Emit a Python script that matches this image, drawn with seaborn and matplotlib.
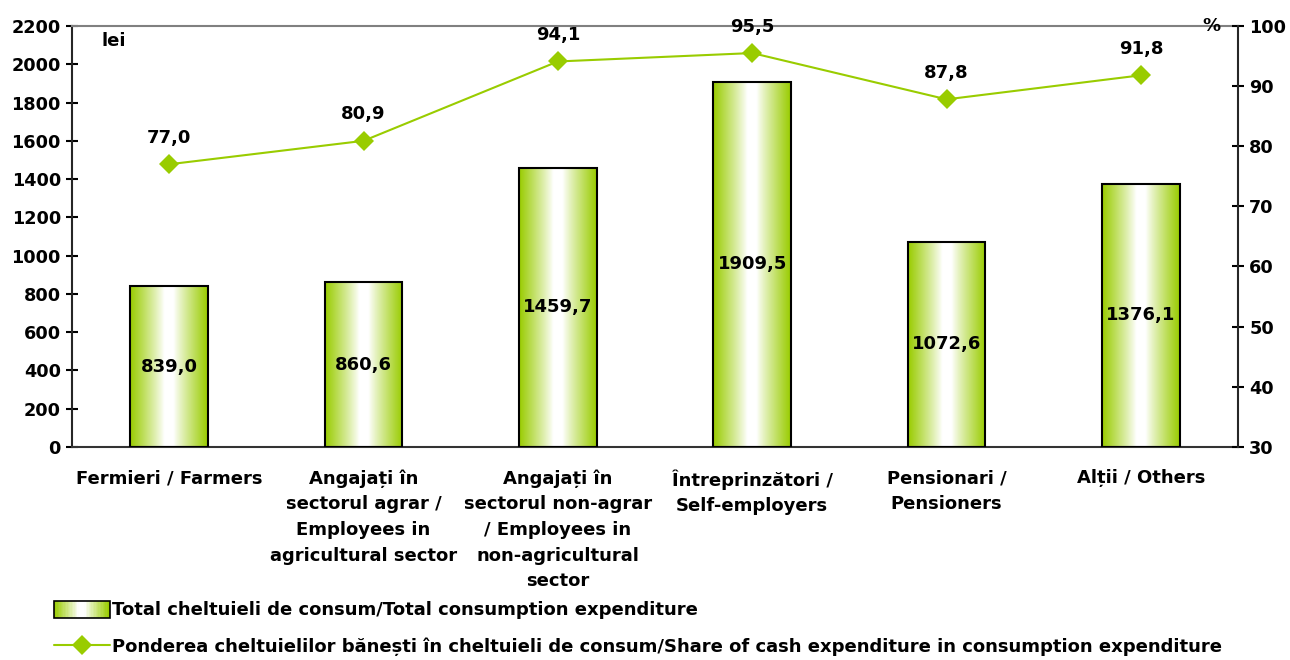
import numpy as np
import pandas as pd
import matplotlib
matplotlib.use("Agg")
from matplotlib import pyplot as plt
from matplotlib.patches import Rectangle
from matplotlib.lines import Line2D
from matplotlib.legend_handler import HandlerBase
import seaborn as sns

categories = [
    "Fermieri / Farmers",
    "Angajați în\nsectorul agrar /\nEmployees in\nagricultural sector",
    "Angajați în\nsectorul non-agrar\n/ Employees in\nnon-agricultural\nsector",
    "Întreprinzători /\nSelf-employers",
    "Pensionari /\nPensioners",
    "Alții / Others",
]
expenditure = [839.0, 860.6, 1459.7, 1909.5, 1072.6, 1376.1]
cash_share = [77.0, 80.9, 94.1, 95.5, 87.8, 91.8]

bar_label = "Total cheltuieli de consum/Total consumption expenditure"
line_label = "Ponderea cheltuielilor bănești în cheltuieli de consum/Share of cash expenditure in consumption expenditure"

GREEN = np.array([0.60, 0.80, 0.0])
WHITE = np.array([1.0, 1.0, 1.0])
FS = 13


def fmt(v):
    return f"{v:.1f}".replace(".", ",")


def gradient_colors(n):
    x = np.linspace(0, 1, n)
    w = np.clip((np.abs(x - 0.5) - 0.06) / 0.44, 0, 1) ** 0.9
    return WHITE[None, :] * (1 - w[:, None]) + GREEN[None, :] * w[:, None]


sns.set_style("white")
plt.rcParams["font.family"] = ["DejaVu Sans"]
plt.rcParams["font.weight"] = "bold"
for k in ["text.color", "axes.labelcolor", "xtick.color", "ytick.color"]:
    plt.rcParams[k] = "black"

df = pd.DataFrame({"cat": categories, "exp": expenditure, "share": cash_share})

fig = plt.figure(figsize=(12.9, 6.6), dpi=100)
ax = fig.add_axes([0.0558, 0.323, 0.904, 0.6376])

sns.barplot(data=df, x="cat", y="exp", ax=ax, width=0.4, color="white",
            edgecolor="black", linewidth=1.5, zorder=3)

grad = gradient_colors(256)[None, :, :]
for p, v in zip(ax.patches, expenditure):
    x0, w, h = p.get_x(), p.get_width(), p.get_height()
    im = ax.imshow(grad, extent=[x0, x0 + w, 0, h], aspect="auto",
                   interpolation="bilinear", zorder=2.5)
    im.set_clip_path(p)
    p.set_facecolor("none")
    ax.text(x0 + w / 2, h / 2, fmt(v), ha="center", va="center",
            fontsize=FS, fontweight="bold", zorder=5)

ax.set_xlim(-0.5, 5.5)
ax.set_ylim(0, 2200)
ax.set_yticks(np.arange(0, 2201, 200))
ax.set_xlabel("")
ax.set_ylabel("")
ax.tick_params(axis="y", direction="inout", length=8, width=1.5, labelsize=12.7, pad=4)
ax.tick_params(axis="x", length=0, labelsize=FS, pad=16)
for lbl in ax.get_xticklabels():
    lbl.set_linespacing(1.55)
    lbl.set_va("top")
ax.spines["left"].set_linewidth(1.5)
ax.spines["bottom"].set_linewidth(1.5)
ax.spines["bottom"].set_color("#333333")
ax.spines["top"].set_color("#808080")
ax.spines["top"].set_linewidth(1.5)
ax.spines["right"].set_visible(False)
ax.text(0.025, 0.965, "lei", transform=ax.transAxes, ha="left", va="center",
        fontsize=FS, fontweight="bold")

ax2 = ax.twinx()
sns.lineplot(data=df, x="cat", y="share", ax=ax2, color="#99CC00", linewidth=1.5,
             marker="D", markersize=10, markeredgewidth=0, sort=False, zorder=4)
ax2.set_ylim(30, 100)
ax2.set_yticks(np.arange(30, 101, 10))
ax2.set_ylabel("")
ax2.tick_params(axis="y", direction="inout", length=8, width=1.5, labelsize=12.7, pad=4)
for s in ["left", "top", "bottom"]:
    ax2.spines[s].set_visible(False)
ax2.spines["right"].set_linewidth(1.5)
for i, v in enumerate(cash_share):
    ax2.text(i, v + 2.9, fmt(v), ha="center", va="bottom", fontsize=FS,
             fontweight="bold")
ax2.text(0.985, 1.0, "%", transform=ax2.transAxes, ha="right", va="center",
         fontsize=FS, fontweight="bold")


class GradientHandler(HandlerBase):
    def create_artists(self, legend, orig_handle, xd, yd, width, height, fontsize, trans):
        n = 40
        cols = gradient_colors(n)
        arts = []
        for k in range(n):
            r = Rectangle((xd + width * k / n, yd - 2), width / n + 0.3, height + 3,
                          facecolor=cols[k], edgecolor="none", transform=trans)
            arts.append(r)
        arts.append(Rectangle((xd, yd - 2), width, height + 3, facecolor="none",
                              edgecolor="black", linewidth=1.2, transform=trans))
        return arts


bar_handle = Rectangle((0, 0), 1, 1)
line_handle = Line2D([], [], color="#99CC00", linewidth=1.5, marker="D",
                     markersize=10, markeredgewidth=0)
fig.legend([bar_handle, line_handle], [bar_label, line_label],
           handler_map={Rectangle: GradientHandler()},
           loc="lower left", bbox_to_anchor=(0.029, -0.018), frameon=False,
           handlelength=3.1, handletextpad=0.15, labelspacing=1.0,
           prop={"weight": "bold", "size": FS, "family": "DejaVu Sans"})

fig.savefig("out.png", dpi=100)
